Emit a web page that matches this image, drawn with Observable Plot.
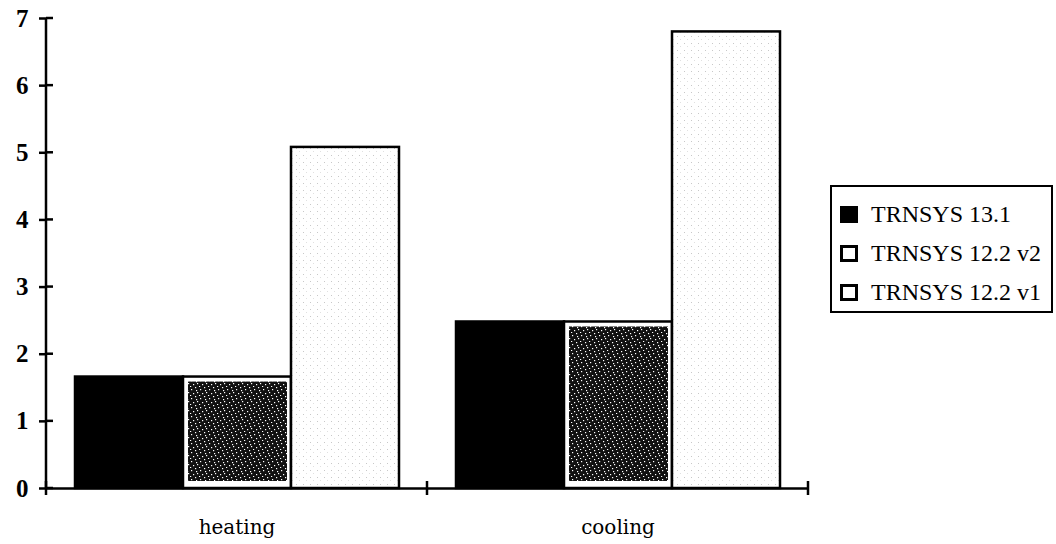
<!DOCTYPE html>
<html>
<head>
<meta charset="utf-8">
<script src="https://cdn.jsdelivr.net/npm/d3@7"></script>
<script src="https://cdn.jsdelivr.net/npm/@observablehq/plot@0.6"></script>
<style>
  body { margin: 0; background: #fff; }
  #wrap { position: relative; width: 1056px; height: 544px; overflow: hidden; }
  #legend { position: absolute; left: 830px; top: 185px; width: 223px; height: 128px;
    border: 2px solid #000; box-sizing: border-box; font-family: "Liberation Serif", serif;
    font-size: 24px; color: #000; }
  .row { position: absolute; left: 8px; height: 20px; display: flex; align-items: center; white-space: nowrap; }
  .sw { width: 18px; height: 17px; box-sizing: border-box; border: 3px solid #000; margin-right: 13px; background: #fff; flex: none; }
</style>
</head>
<body>
<div id="wrap"><div id="chart"></div><div id="legend"></div></div>
<script>
const categories = ["heating", "cooling"];
const series = ["TRNSYS 13.1", "TRNSYS 12.2 v2", "TRNSYS 12.2 v1"];
const heatingValues = [1.66, 1.66, 5.08];
const coolingValues = [2.48, 2.48, 6.8];
const yTicks = [0, 1, 2, 3, 4, 5, 6, 7];

const valuesByCategory = [heatingValues, coolingValues];
const data = categories.flatMap((c, i) =>
  series.map((s, j) => ({ category: c, series: s, value: valuesByCategory[i][j] })));
const bySeries = s => data.filter(d => d.series === s);

const common = { fx: "category", x: "series", y: "value" };

const chart = Plot.plot({
  width: 1056,
  height: 544,
  marginLeft: 45,
  marginRight: 248,
  marginTop: 18,
  marginBottom: 56,
  style: { background: "#fff", color: "#000" },
  fx: { domain: categories, padding: 0, axis: null },
  x: { domain: series, paddingInner: 0, paddingOuter: 0.25, axis: null },
  y: { domain: [0, 7], axis: null },
  marks: [
    Plot.barY(bySeries(series[0]), { ...common, fill: "#000", stroke: "#000", strokeWidth: 2.5 }),
    Plot.barY(bySeries(series[1]), { ...common, fill: "#fff", stroke: "#000", strokeWidth: 2.5 }),
    Plot.barY(bySeries(series[1]), { ...common, fill: "url(#speck)", insetLeft: 5, insetRight: 4, insetTop: 5, insetBottom: 7 }),
    Plot.barY(bySeries(series[2]), { ...common, fill: "url(#light)", stroke: "#000", strokeWidth: 2.5 }),
    Plot.ruleY([0], { strokeWidth: 2.5 }),
    Plot.axisY({ ticks: yTicks, tickFormat: "d", tickSize: 7, tickPadding: 11, strokeWidth: 2.5, fontSize: 25,
      fontFamily: "Liberation Serif", fontWeight: "bold", label: null }),
    Plot.axisFx({ anchor: "bottom", tickSize: 0, tickPadding: 31, fontSize: 20,
      fontFamily: "DejaVu Serif", label: null })
  ]
});

// patterns
const svg = d3.select(chart);
const defs = svg.insert("defs", ":first-child");
const sp = defs.append("pattern").attr("id", "speck").attr("patternUnits", "userSpaceOnUse")
  .attr("width", 9).attr("height", 9);
sp.append("rect").attr("width", 9).attr("height", 9).attr("fill", "#111");
[[1,2],[5,0],[7,5],[3,6],[0,8],[6,3]].forEach(([x, y]) =>
  sp.append("rect").attr("x", x).attr("y", y).attr("width", 1.2).attr("height", 1.2).attr("fill", "#fff"));
const lp = defs.append("pattern").attr("id", "light").attr("patternUnits", "userSpaceOnUse")
  .attr("width", 7).attr("height", 7);
lp.append("rect").attr("width", 7).attr("height", 7).attr("fill", "#fff");
[[1,1,"#c8c8c8"],[4,4,"#e0e0e0"]].forEach(([x, y, c]) =>
  lp.append("rect").attr("x", x).attr("y", y).attr("width", 1).attr("height", 1).attr("fill", c));

// axis lines and crossing ticks, placed with Plot's own scales
const fx = chart.scale("fx");
const yS = chart.scale("y");
const y0 = yS.apply(0);
const xLeft = fx.apply(categories[0]);
const edges = [xLeft, ...categories.map(c => fx.apply(c) + fx.bandwidth)];
const g = svg.append("g").attr("stroke", "#000").attr("stroke-width", 2.5).attr("fill", "none");
g.append("line").attr("x1", xLeft).attr("x2", xLeft)
  .attr("y1", yS.apply(yTicks[yTicks.length - 1])).attr("y2", y0);
g.selectAll("line.xt").data(edges).join("line").attr("class", "xt")
  .attr("x1", d => d).attr("x2", d => d).attr("y1", y0 - 7).attr("y2", y0 + 7);
g.selectAll("line.yt").data(yTicks).join("line").attr("class", "yt")
  .attr("x1", xLeft).attr("x2", xLeft + 7).attr("y1", d => yS.apply(d)).attr("y2", d => yS.apply(d));

document.getElementById("chart").appendChild(chart);

// legend
const legend = document.getElementById("legend");
const rowTops = [17, 56, 95];
series.forEach((s, i) => {
  const row = document.createElement("div");
  row.className = "row";
  row.style.top = rowTops[i] + "px";
  const sw = document.createElement("div");
  sw.className = "sw";
  if (i === 0) sw.style.background = "#000";
  const t = document.createElement("span");
  t.textContent = s;
  row.appendChild(sw); row.appendChild(t);
  legend.appendChild(row);
});
</script>
</body>
</html>
